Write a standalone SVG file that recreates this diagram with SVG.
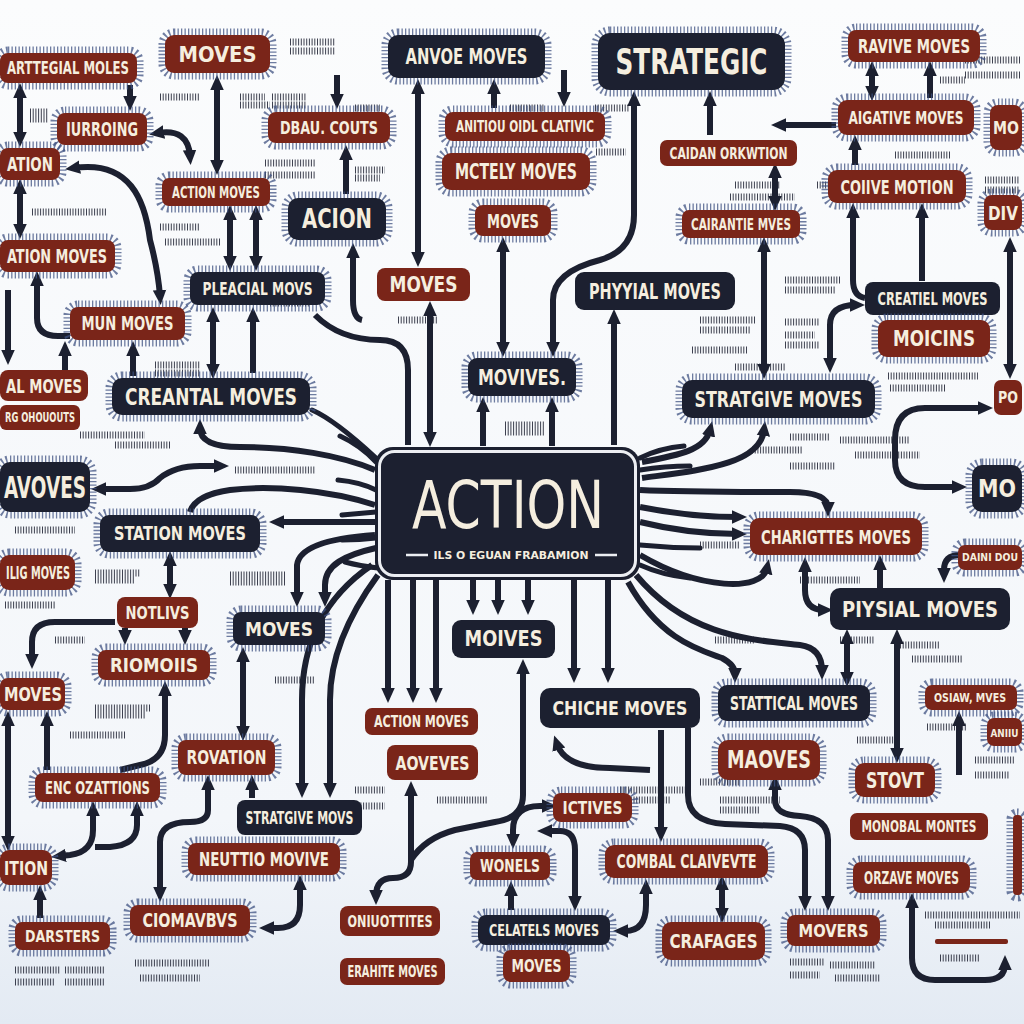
<svg xmlns="http://www.w3.org/2000/svg" width="1024" height="1024" viewBox="0 0 1024 1024">
<defs>
<linearGradient id="bg" x1="0" y1="0" x2="0" y2="1"><stop offset="0" stop-color="#fbfcfd"/><stop offset="0.8" stop-color="#f3f6fa"/><stop offset="1" stop-color="#e3eaf3"/></linearGradient>
<marker id="ah" viewBox="0 0 10 10" refX="4" refY="5" markerWidth="15" markerHeight="15" markerUnits="userSpaceOnUse" orient="auto-start-reverse"><path d="M0,0.5 L10,5 L0,9.5 z" fill="#1c2030"/></marker>
<style>
.r{fill:#7a2519}
.n{fill:#1c2030}
.hh{stroke:#3f5282;stroke-width:13;stroke-dasharray:1.3 2.2;paint-order:stroke;stroke-opacity:.75}
text{font-family:"Liberation Sans Narrow","DejaVu Sans Condensed","Liberation Sans",sans-serif;font-weight:700;fill:#f5eedf;text-anchor:middle}
.c{fill:none;stroke:#1c2030;stroke-width:6;stroke-linejoin:round}
.e{marker-end:url(#ah)}
.s{marker-start:url(#ah)}
.b{marker-start:url(#ah);marker-end:url(#ah)}
.ray{fill:none;stroke:#1c2030;stroke-width:5;stroke-linecap:round}
.sc{fill:none;stroke:#1c2030;stroke-width:7;stroke-dasharray:1 1.7;opacity:.85}
</style>
</defs>
<rect width="1024" height="1024" fill="url(#bg)"/>

<path class="sc" d="M160,97h40M30,112h18M30,119h18M240,97h25M272,97h35M240,105h30M272,105h35M290,42h45M290,51h45M265,163h50M265,175h50M32,212h75M160,227h40M165,242h55M355,108h25M510,108h35M595,108h35M596,152h30M355,170h30M355,178h25M735,185h45M730,197h65M817,185h45M940,80h25M965,60h55M965,75h55M985,180h35M985,190h35M895,155h55M155,365h45M155,373h45M270,295h40M270,303h40M80,435h65M115,445h55M235,470h80M398,320h40M505,425h40M505,432h40M785,280h55M785,290h50M785,322h35M785,335h30M785,345h35M700,320h55M700,330h50M692,350h55M888,376h90M890,388h55M735,367h50M790,437h40M840,440h70M752,450h50M855,455h65M790,466h45M15,530h60M95,573h45M95,580h40M5,605h50M230,575h55M230,582h55M55,640h30M95,708h55M95,715h50M70,735h55M275,680h40M355,790h30M355,806h30M437,800h50M700,545h40M768,538h40M800,580h60M715,640h40M840,640h35M900,645h40M912,659h50M840,612h45M857,740h40M927,727h40M975,760h40M975,775h35M700,782h40M720,800h60M720,810h40M15,970h45M65,970h40M15,982h40M65,982h40M135,963h75M140,978h60M620,790h70M620,800h50M790,962h35M790,975h30M830,965h45M835,978h45M925,915h95M935,925h55M940,958h40"/>

<g id="connectors">
<path class="c b" d="M20,92 L20,138"/>
<path class="c e" d="M130,85 L130,102"/>
<path class="c b" d="M20,188 L20,230"/>
<path class="c b" d="M217,84 L217,166"/>
<path class="c b" d="M158,133 Q188,128 190,156"/>
<path class="c b" d="M74,168 C130,160 145,200 150,240 Q158,270 160,296"/>
<path class="c b" d="M230,214 L230,262"/>
<path class="c b" d="M256,214 L256,262"/>
<path class="c e" d="M337,75 L337,100"/>
<path class="c e" d="M346,194 L346,154"/>
<path class="c e" d="M362,320 Q353,318 353,300 L353,252"/>
<path class="c b" d="M418,88 L418,258"/>
<path class="c e" d="M494,108 L494,88"/>
<path class="c e" d="M564,70 L564,98"/>
<path class="c b" d="M503,246 L503,348"/>
<path class="c b" d="M634,100 L634,215 Q634,250 600,260 Q553,272 553,300 L553,348"/>
<path class="c e" d="M483,446 L483,406"/>
<path class="c e" d="M552,446 L552,406"/>
<path class="c e" d="M614,445 L614,318"/>
<path class="c" d="M408,445 L408,370 Q408,340 380,340 C350,340 330,330 315,315"/>
<path class="c b" d="M430,310 L430,438"/>
<path class="c e" d="M710,135 L710,100"/>
<path class="c e" d="M836,125 L780,125"/>
<path class="c b" d="M775,172 L775,202"/>
<path class="c b" d="M872,70 L872,92"/>
<path class="c e" d="M930,98 L930,70"/>
<path class="c e" d="M855,165 L855,144"/>
<path class="c e" d="M865,298 Q853,296 853,280 L853,212"/>
<path class="c e" d="M922,281 L922,212"/>
<path class="c b" d="M764,246 L764,370"/>
<path class="c b" d="M830,364 L830,325 Q830,305 856,305"/>
<path class="c b" d="M1010,246 L1010,370"/>
<path class="c b" d="M984,408 L925,408 Q895,408 895,440 L895,460 Q895,487 925,487 L958,487"/>
<path class="c e" d="M642,462 C680,455 705,450 710,430"/>
<path class="c e" d="M642,478 C700,470 760,465 764,430"/>
<path class="c e" d="M640,490 C680,492 720,492 790,492 Q828,492 828,508"/>
<path class="c e" d="M640,507 C680,515 710,517 738,517"/>
<path class="c e" d="M640,522 C680,532 710,534 738,534"/>
<path class="c e" d="M640,555 C700,590 762,592 767,568"/>
<path class="c b" d="M805,566 L805,590 Q805,610 824,610"/>
<path class="c e" d="M880,590 L880,564"/>
<path class="c e" d="M960,555 Q944,555 944,570 L944,574"/>
<path class="c e" d="M636,575 C690,640 760,640 800,645 Q822,648 822,671"/>
<path class="c e" d="M628,582 C660,640 700,650 722,658 Q735,665 735,674"/>
<path class="c b" d="M847,638 L847,678"/>
<path class="c b" d="M897,638 L897,754"/>
<path class="c e" d="M959,775 L959,720"/>
<path class="c e" d="M388,580 L388,694"/>
<path class="c e" d="M413,580 L413,694"/>
<path class="c e" d="M436,580 L436,694"/>
<path class="c e" d="M473,580 L473,606"/>
<path class="c e" d="M498,580 L498,606"/>
<path class="c e" d="M528,580 L528,606"/>
<path class="c e" d="M574,580 L574,674"/>
<path class="c e" d="M608,580 L608,674"/>
<path class="c s" d="M523,668 L523,795 Q523,818 495,822 L455,830 Q425,838 411,860"/>
<path class="c b" d="M411,790 L411,862 Q411,878 393,878 Q376,878 376,896"/>
<path class="c e" d="M372,565 C320,600 302,650 302,700 L302,789"/>
<path class="c e" d="M378,575 C345,620 330,660 330,700 L330,789"/>
<path class="c b" d="M243,656 L243,732"/>
<path class="c e" d="M375,535 Q300,540 297,565 L297,598"/>
<path class="c e" d="M376,548 C345,555 325,565 325,585 L325,598"/>
<path class="c e" d="M375,522 L278,522"/>
<path class="c b" d="M170,560 L170,590"/>
<path class="c e" d="M115,622 L55,622 Q32,622 32,642 L32,660"/>
<path class="c e" d="M125,628 L125,636"/>
<path class="c e" d="M185,628 L185,636"/>
<path class="c s" d="M165,690 L165,735 Q165,760 140,765 L120,770"/>
<path class="c b" d="M8,720 L8,842"/>
<path class="c e" d="M47,770 L47,720"/>
<path class="c b" d="M93,810 L93,830 Q93,852 70,855 L60,856"/>
<path class="c s" d="M137,810 L137,825 Q137,845 110,847 L95,847"/>
<path class="c e" d="M40,918 L40,894"/>
<path class="c b" d="M208,784 L208,810 Q208,822 190,822 Q160,822 160,842 L160,893"/>
<path class="c e" d="M252,798 L252,784"/>
<path class="c b" d="M300,884 L300,905 Q300,928 278,928 L268,928"/>
<path class="c b" d="M548,806 L540,806 Q513,806 513,830 L513,840"/>
<path class="c e" d="M511,910 L511,890"/>
<path class="c b" d="M546,831 L560,831 Q575,831 575,850 L575,902"/>
<path class="c b" d="M646,888 L646,905 Q646,931 625,931 L622,931"/>
<path class="c e" d="M661,730 L661,833"/>
<path class="c s" d="M557,744 Q565,768 610,768 L650,770"/>
<path class="c e" d="M688,728 L688,795 Q688,822 725,824 L780,826 Q805,828 805,850 L805,902"/>
<path class="c b" d="M775,784 L775,800 Q775,815 800,816 Q828,818 828,840 L828,902"/>
<path class="c b" d="M722,884 L722,914"/>
<path class="c b" d="M912,902 L912,958 Q912,980 935,980 L985,980 Q1005,980 1005,964"/>
<path class="c b" d="M213,316 L213,370"/>
<path class="c e" d="M253,373 L253,316"/>
<path class="c e" d="M133,376 L133,350"/>
<path class="c s" d="M37,280 L37,318 Q37,336 58,336 L70,336"/>
<path class="c e" d="M65,370 L65,350"/>
<path class="c e" d="M8,290 L8,356"/>
<path class="c e" d="M375,470 C340,455 290,447 240,447 Q200,447 200,428"/>
<path class="c b" d="M100,489 L130,489 Q150,489 160,478 Q175,466 200,466 L220,466"/>
<path class="c" d="M375,505 C330,490 270,485 230,490 Q195,495 190,512"/>
<path class="ray" d="M312,410 Q335,420 376,458"/>
<path class="ray" d="M340,436 Q360,445 376,462"/>
<path class="ray" d="M338,480 Q360,482 376,490"/>
<path class="ray" d="M342,515 L376,512"/>
<path class="ray" d="M342,540 Q360,540 376,538"/>
<path class="ray" d="M345,562 Q360,566 378,568"/>
<path class="ray" d="M640,458 Q660,448 684,446"/>
<path class="ray" d="M640,470 Q665,466 690,466"/>
<path class="ray" d="M640,545 Q670,548 700,548"/>
<path class="ray" d="M640,565 Q662,575 690,578"/>
</g>

<g id="n1"><rect class="r hh" x="0" y="53" width="137" height="30" rx="8"/><text x="68" y="74" font-size="17" textLength="122" lengthAdjust="spacingAndGlyphs">ARTTEGIAL MOLES</text></g>
<g id="n2"><rect class="r hh" x="165" y="35" width="105" height="38" rx="9"/><text x="217.5" y="61.7" font-size="22" textLength="78" lengthAdjust="spacingAndGlyphs">MOVES</text></g>
<g id="n3"><rect class="r hh" x="57" y="113" width="90" height="32" rx="8"/><text x="102" y="136" font-size="20" textLength="72" lengthAdjust="spacingAndGlyphs">IURROING</text></g>
<g id="n4"><rect class="r hh" x="0" y="148" width="60" height="32" rx="8"/><text x="30" y="171" font-size="20" textLength="46" lengthAdjust="spacingAndGlyphs">ATION</text></g>
<g id="n5"><rect class="r hh" x="268" y="112" width="122" height="31" rx="8"/><text x="329" y="133.8" font-size="18" textLength="98" lengthAdjust="spacingAndGlyphs">DBAU. COUTS</text></g>
<g id="n6"><rect class="r hh" x="162" y="178" width="108" height="28" rx="7"/><text x="216" y="197.6" font-size="16" textLength="88" lengthAdjust="spacingAndGlyphs">ACTION MOVES</text></g>
<g id="n7"><rect class="n hh" x="288" y="198" width="98" height="42" rx="10"/><text x="337" y="228" font-size="26" textLength="70" lengthAdjust="spacingAndGlyphs">ACION</text></g>
<g id="n8"><rect class="n hh" x="388" y="35" width="157" height="43" rx="10"/><text x="466.5" y="64.2" font-size="22" textLength="122" lengthAdjust="spacingAndGlyphs">ANVOE MOVES</text></g>
<g id="n9"><rect class="r hh" x="445" y="112" width="160" height="29" rx="8"/><text x="525" y="131.8" font-size="15" textLength="138" lengthAdjust="spacingAndGlyphs">ANITIOU OIDL CLATIVIC</text></g>
<g id="n10"><rect class="r hh" x="442" y="153" width="148" height="37" rx="9"/><text x="516" y="179.2" font-size="22" textLength="122" lengthAdjust="spacingAndGlyphs">MCTELY MOVES</text></g>
<g id="n11"><rect class="r hh" x="475" y="205" width="76" height="31" rx="8"/><text x="513" y="227.5" font-size="20" textLength="52" lengthAdjust="spacingAndGlyphs">MOVES</text></g>
<g id="n12"><rect class="n hh" x="598" y="33" width="187" height="57" rx="12"/><text x="691.5" y="74.1" font-size="36" textLength="152" lengthAdjust="spacingAndGlyphs">STRATEGIC</text></g>
<g id="n13"><rect class="r" x="660" y="140" width="137" height="26" rx="7"/><text x="728.5" y="158.6" font-size="16" textLength="118" lengthAdjust="spacingAndGlyphs">CAIDAN ORKWTION</text></g>
<g id="n14"><rect class="r hh" x="848" y="30" width="132" height="32" rx="8"/><text x="914" y="52.6" font-size="19" textLength="112" lengthAdjust="spacingAndGlyphs">RAVIVE MOVES</text></g>
<g id="n15"><rect class="r hh" x="838" y="100" width="136" height="35" rx="9"/><text x="906" y="123.5" font-size="17" textLength="115" lengthAdjust="spacingAndGlyphs">AIGATIVE MOVES</text></g>
<g id="n16"><rect class="r hh" x="828" y="170" width="138" height="33" rx="9"/><text x="897" y="193.5" font-size="20" textLength="113" lengthAdjust="spacingAndGlyphs">COIIVE MOTION</text></g>
<g id="n17"><rect class="r hh" x="682" y="210" width="118" height="28" rx="7"/><text x="741" y="229.6" font-size="16" textLength="100" lengthAdjust="spacingAndGlyphs">CAIRANTIE MVES</text></g>
<g id="n18"><rect class="r hh" x="990" y="105" width="32" height="45" rx="8"/><text x="1006" y="134" font-size="18" textLength="26" lengthAdjust="spacingAndGlyphs">MO</text></g>
<g id="n19"><rect class="r hh" x="984" y="195" width="38" height="35" rx="8"/><text x="1003" y="219.5" font-size="20" textLength="30" lengthAdjust="spacingAndGlyphs">DIV</text></g>
<g id="n20"><rect class="n" x="575" y="272" width="160" height="38" rx="9"/><text x="655" y="298.7" font-size="22" textLength="132" lengthAdjust="spacingAndGlyphs">PHYYIAL MOVES</text></g>
<g id="n21"><rect class="r" x="377" y="268" width="93" height="33" rx="8"/><text x="423.5" y="292.2" font-size="22" textLength="68" lengthAdjust="spacingAndGlyphs">MOVES</text></g>
<g id="n22"><rect class="n hh" x="190" y="272" width="135" height="33" rx="8"/><text x="257.5" y="294.8" font-size="18" textLength="110" lengthAdjust="spacingAndGlyphs">PLEACIAL MOVS</text></g>
<g id="n23"><rect class="r hh" x="0" y="240" width="115" height="32" rx="8"/><text x="57" y="263" font-size="20" textLength="100" lengthAdjust="spacingAndGlyphs">ATION MOVES</text></g>
<g id="n24"><rect class="r hh" x="70" y="307" width="115" height="33" rx="8"/><text x="127.5" y="330.1" font-size="19" textLength="92" lengthAdjust="spacingAndGlyphs">MUN MOVES</text></g>
<g id="n25"><rect class="n hh" x="112" y="378" width="198" height="37" rx="10"/><text x="211" y="404.5" font-size="23" textLength="172" lengthAdjust="spacingAndGlyphs">CREANTAL MOVES</text></g>
<g id="n26"><rect class="r" x="0" y="370" width="88" height="31" rx="8"/><text x="44" y="392.5" font-size="20" textLength="76" lengthAdjust="spacingAndGlyphs">AL MOVES</text></g>
<g id="n27"><rect class="r" x="0" y="405" width="80" height="25" rx="6"/><text x="40" y="422.4" font-size="14" textLength="70" lengthAdjust="spacingAndGlyphs">RG OHOUOUTS</text></g>
<g id="n28"><rect class="n hh" x="468" y="358" width="108" height="38" rx="9"/><text x="522" y="384.7" font-size="22" textLength="88" lengthAdjust="spacingAndGlyphs">MOVIVES.</text></g>
<g id="n29"><rect class="n" x="865" y="282" width="135" height="33" rx="8"/><text x="932.5" y="304.5" font-size="17" textLength="110" lengthAdjust="spacingAndGlyphs">CREATIEL MOVES</text></g>
<g id="n30"><rect class="r hh" x="878" y="320" width="112" height="37" rx="9"/><text x="934" y="346.2" font-size="22" textLength="82" lengthAdjust="spacingAndGlyphs">MOICINS</text></g>
<g id="n31"><rect class="n hh" x="682" y="380" width="193" height="38" rx="10"/><text x="778.5" y="406.7" font-size="22" textLength="168" lengthAdjust="spacingAndGlyphs">STRATGIVE MOVES</text></g>
<g id="n32"><rect class="r" x="994" y="380" width="28" height="35" rx="7"/><text x="1008" y="403" font-size="16" textLength="20" lengthAdjust="spacingAndGlyphs">PO</text></g>
<g id="n33"><rect class="n hh" x="0" y="462" width="90" height="50" rx="10"/><text x="45" y="497.5" font-size="30" textLength="82" lengthAdjust="spacingAndGlyphs">AVOVES</text></g>
<g id="action">
<rect x="375" y="447" width="265" height="133" rx="18" fill="#1c2030"/>
<rect x="379.5" y="451.5" width="256" height="124" rx="15" fill="none" stroke="#eceef2" stroke-width="3"/>
<text x="508" y="528" font-size="66" style="font-weight:400" textLength="192" lengthAdjust="spacingAndGlyphs" fill="#f7f5ef">ACTION</text>
<path d="M406,555 H428 M595,555 H617" stroke="#eceef2" stroke-width="2.5"/>
<text x="511" y="559" font-size="11" textLength="155" lengthAdjust="spacingAndGlyphs" fill="#eceef2">ILS O EGUAN FRABAMION</text>
</g>
<g id="n35"><rect class="n hh" x="972" y="465" width="50" height="47" rx="10"/><text x="997" y="497" font-size="25" textLength="38" lengthAdjust="spacingAndGlyphs">MO</text></g>
<g id="n36"><rect class="n hh" x="100" y="515" width="160" height="37" rx="9"/><text x="180" y="540.1" font-size="19" textLength="132" lengthAdjust="spacingAndGlyphs">STATION MOVES</text></g>
<g id="n37"><rect class="r hh" x="750" y="518" width="172" height="37" rx="9"/><text x="836" y="543.5" font-size="20" textLength="150" lengthAdjust="spacingAndGlyphs">CHARIGTTES MOVES</text></g>
<g id="n38"><rect class="r hh" x="958" y="545" width="64" height="25" rx="7"/><text x="990" y="561" font-size="10" textLength="56" lengthAdjust="spacingAndGlyphs">DAINI DOU</text></g>
<g id="n39"><rect class="n" x="830" y="588" width="180" height="42" rx="10"/><text x="920" y="616.5" font-size="22" textLength="156" lengthAdjust="spacingAndGlyphs">PIYSIAL MOVES</text></g>
<g id="n40"><rect class="r hh" x="0" y="555" width="75" height="35" rx="9"/><text x="38" y="578.5" font-size="17" textLength="64" lengthAdjust="spacingAndGlyphs">ILIG MOVES</text></g>
<g id="n41"><rect class="r" x="117" y="597" width="81" height="31" rx="8"/><text x="157.5" y="618.8" font-size="18" textLength="64" lengthAdjust="spacingAndGlyphs">NOTLIVS</text></g>
<g id="n42"><rect class="r hh" x="98" y="650" width="112" height="30" rx="8"/><text x="154" y="671.6" font-size="19" textLength="88" lengthAdjust="spacingAndGlyphs">RIOMOIIS</text></g>
<g id="n43"><rect class="n hh" x="233" y="612" width="92" height="33" rx="8"/><text x="279" y="635.5" font-size="20" textLength="68" lengthAdjust="spacingAndGlyphs">MOVES</text></g>
<g id="n44"><rect class="n" x="452" y="620" width="103" height="38" rx="9"/><text x="503.5" y="646.3" font-size="21" textLength="78" lengthAdjust="spacingAndGlyphs">MOIVES</text></g>
<g id="n45"><rect class="r hh" x="0" y="678" width="65" height="32" rx="8"/><text x="33" y="701" font-size="20" textLength="58" lengthAdjust="spacingAndGlyphs">MOVES</text></g>
<g id="n46"><rect class="n" x="540" y="688" width="160" height="40" rx="10"/><text x="620" y="715" font-size="20" textLength="135" lengthAdjust="spacingAndGlyphs">CHICHE MOVES</text></g>
<g id="n47"><rect class="n hh" x="718" y="685" width="152" height="36" rx="9"/><text x="794" y="709.6" font-size="19" textLength="128" lengthAdjust="spacingAndGlyphs">STATTICAL MOVES</text></g>
<g id="n48"><rect class="r hh" x="925" y="685" width="92" height="25" rx="7"/><text x="970" y="702" font-size="12" textLength="72" lengthAdjust="spacingAndGlyphs">OSIAW, MVES</text></g>
<g id="n49"><rect class="r hh" x="987" y="718" width="35" height="28" rx="7"/><text x="1004.5" y="736.5" font-size="10" textLength="28" lengthAdjust="spacingAndGlyphs">ANIIU</text></g>
<g id="n50"><rect class="r" x="365" y="708" width="113" height="27" rx="7"/><text x="421.5" y="727.1" font-size="16" textLength="95" lengthAdjust="spacingAndGlyphs">ACTION MOVES</text></g>
<g id="n51"><rect class="r" x="387" y="745" width="91" height="35" rx="8"/><text x="432.5" y="769.5" font-size="20" textLength="74" lengthAdjust="spacingAndGlyphs">AOVEVES</text></g>
<g id="n52"><rect class="r hh" x="178" y="740" width="97" height="35" rx="8"/><text x="226.5" y="764.1" font-size="19" textLength="80" lengthAdjust="spacingAndGlyphs">ROVATION</text></g>
<g id="n53"><rect class="r hh" x="718" y="740" width="102" height="40" rx="10"/><text x="769" y="768.4" font-size="24" textLength="84" lengthAdjust="spacingAndGlyphs">MAOVES</text></g>
<g id="n54"><rect class="r hh" x="855" y="763" width="80" height="34" rx="9"/><text x="895" y="787.7" font-size="22" textLength="58" lengthAdjust="spacingAndGlyphs">STOVT</text></g>
<g id="n55"><rect class="r hh" x="35" y="773" width="125" height="29" rx="8"/><text x="97.5" y="793.5" font-size="17" textLength="105" lengthAdjust="spacingAndGlyphs">ENC OZATTIONS</text></g>
<g id="n56"><rect class="n" x="237" y="800" width="125" height="35" rx="8"/><text x="299.5" y="823.5" font-size="17" textLength="108" lengthAdjust="spacingAndGlyphs">STRATGIVE MOVS</text></g>
<g id="n57"><rect class="r hh" x="188" y="843" width="152" height="32" rx="8"/><text x="264" y="865.6" font-size="19" textLength="130" lengthAdjust="spacingAndGlyphs">NEUTTIO MOVIVE</text></g>
<g id="n58"><rect class="r hh" x="0" y="850" width="52" height="35" rx="9"/><text x="26" y="874.5" font-size="19" textLength="44" lengthAdjust="spacingAndGlyphs">ITION</text></g>
<g id="n59"><rect class="r hh" x="553" y="793" width="79" height="29" rx="8"/><text x="592.5" y="813.5" font-size="17" textLength="60" lengthAdjust="spacingAndGlyphs">ICTIVES</text></g>
<g id="n60"><rect class="r" x="850" y="813" width="138" height="27" rx="7"/><text x="919" y="831.8" font-size="15" textLength="115" lengthAdjust="spacingAndGlyphs">MONOBAL MONTES</text></g>
<g id="n61"><rect class="r hh" x="605" y="845" width="163" height="33" rx="9"/><text x="686.5" y="868.1" font-size="19" textLength="140" lengthAdjust="spacingAndGlyphs">COMBAL CLAIVEVTE</text></g>
<g id="n62"><rect class="r hh" x="470" y="852" width="80" height="28" rx="7"/><text x="510" y="872" font-size="17" textLength="60" lengthAdjust="spacingAndGlyphs">WONELS</text></g>
<g id="n63"><rect class="r hh" x="853" y="862" width="117" height="31" rx="8"/><text x="911.5" y="883.5" font-size="17" textLength="95" lengthAdjust="spacingAndGlyphs">ORZAVE MOVES</text></g>
<g id="n64"><rect class="r hh" x="130" y="905" width="120" height="31" rx="8"/><text x="190" y="927.1" font-size="19" textLength="95" lengthAdjust="spacingAndGlyphs">CIOMAVBVS</text></g>
<g id="n65"><rect class="r hh" x="15" y="922" width="95" height="28" rx="7"/><text x="62.5" y="941.6" font-size="16" textLength="75" lengthAdjust="spacingAndGlyphs">DARSTERS</text></g>
<g id="n66"><rect class="r" x="340" y="906" width="100" height="30" rx="8"/><text x="390" y="926.6" font-size="16" textLength="85" lengthAdjust="spacingAndGlyphs">ONIUOTTITES</text></g>
<g id="n67"><rect class="n hh" x="478" y="915" width="132" height="30" rx="8"/><text x="544" y="935.6" font-size="16" textLength="110" lengthAdjust="spacingAndGlyphs">CELATELS MOVES</text></g>
<g id="n68"><rect class="r hh" x="662" y="922" width="103" height="38" rx="9"/><text x="713.5" y="948" font-size="20" textLength="88" lengthAdjust="spacingAndGlyphs">CRAFAGES</text></g>
<g id="n69"><rect class="r hh" x="787" y="915" width="93" height="31" rx="8"/><text x="833.5" y="936.8" font-size="18" textLength="70" lengthAdjust="spacingAndGlyphs">MOVERS</text></g>
<g id="n70"><rect class="r hh" x="503" y="950" width="67" height="32" rx="8"/><text x="536.5" y="972" font-size="17" textLength="50" lengthAdjust="spacingAndGlyphs">MOVES</text></g>
<g id="n71"><rect class="r" x="340" y="958" width="105" height="27" rx="7"/><text x="392.5" y="976.8" font-size="15" textLength="90" lengthAdjust="spacingAndGlyphs">ERAHITE MOVES</text></g>
<g id="n72"><rect class="r hh" x="1013" y="815" width="9" height="80" rx="4"/></g>
<rect x="935" y="939" width="73" height="5" rx="2" fill="#7a2519"/>
</svg>
